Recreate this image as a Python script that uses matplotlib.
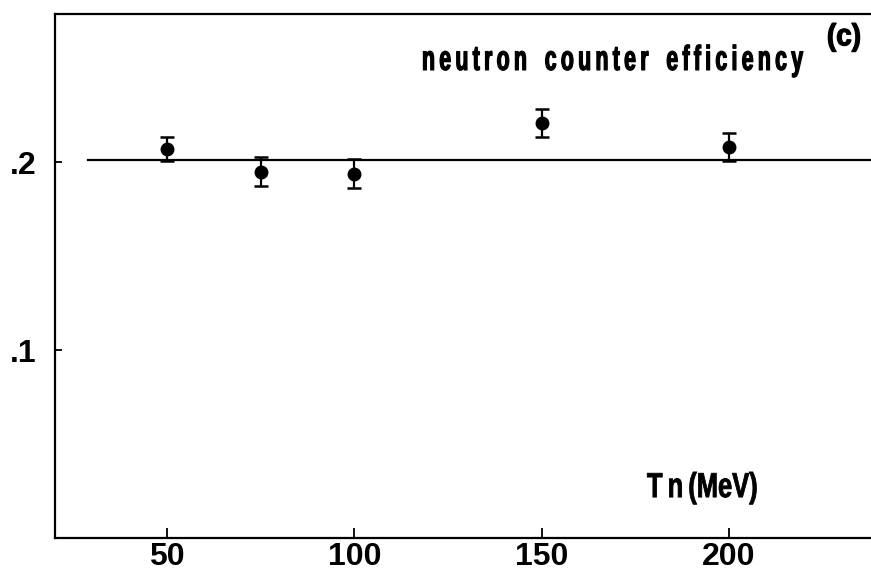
import matplotlib.pyplot as plt
from matplotlib.patheffects import AbstractPathEffect
from matplotlib.transforms import Affine2D

# neutron energy (MeV) and measured counter efficiency
tn = [50, 75, 100, 150, 200]
eff = [0.207, 0.195, 0.194, 0.221, 0.208]
eff_err = [0.0065, 0.0078, 0.0078, 0.0075, 0.0075]

# fitted constant efficiency
fit_x = [29, 240]
fit_y = [0.201, 0.201]

xticks = [50, 100, 150, 200]
yticks = [0.1, 0.2]
ytick_labels = ['.1', '.2']


class Squeeze(AbstractPathEffect):
    # draws text narrower and a bit heavier (condensed look), keeping its left edge
    def __init__(self, sx, lw=0.9):
        super().__init__()
        self.sx = sx
        self.lw = lw

    def draw_path(self, renderer, gc, tpath, affine, rgbFace=None):
        gc0 = renderer.new_gc()
        gc0.copy_properties(gc)
        gc0.set_linewidth(self.lw)
        gc0.set_foreground('black')
        renderer.draw_path(gc0, tpath, Affine2D().scale(self.sx, 1) + affine, rgbFace)
        gc0.restore()


fig = plt.figure(figsize=(8.71, 5.76), dpi=100)
ax = fig.add_axes([0.063, 0.066, 0.937, 0.91])

ax.plot(fit_x, fit_y, color='black', lw=1.6)
ax.errorbar(tn, eff, yerr=eff_err, fmt='o', color='black', ms=9,
            elinewidth=1.6, capsize=5, capthick=1.8)

ax.set_xlim(20.1, 237.9)
ax.set_ylim(0, 0.279)

ax.set_xticks(xticks)
ax.set_yticks(yticks)
ax.set_yticklabels(ytick_labels)
ax.tick_params(direction='in', length=7, width=1.3, labelsize=23)
ax.tick_params(axis='x', pad=3)
ax.tick_params(axis='y', length=5, pad=13)
for lab in ax.get_xticklabels() + ax.get_yticklabels():
    lab.set_fontfamily('Liberation Sans')
    lab.set_fontweight('bold')

ax.spines['right'].set_visible(False)
for s in ['left', 'bottom', 'top']:
    ax.spines[s].set_linewidth(1.6)

fam = ['Liberation Sans', 'DejaVu Sans']
sp = '\u2009'
title = ax.text(0.4498, 0.893, sp.join('neutron') + '   ' + sp.join('counter') + '   ' + sp.join('efficiency'),
                transform=ax.transAxes, ha='left', va='baseline', fontsize=25,
                fontweight='bold', family=fam)
panel = ax.text(0.946, 0.94, '(c)', transform=ax.transAxes, ha='left',
                va='baseline', fontsize=22, fontweight='bold', family=fam)
xlab = ax.text(0.7255, 0.078, 'T' + sp + 'n' + sp + '(MeV)', transform=ax.transAxes,
               ha='left', va='baseline', fontsize=25, fontweight='bold', family=fam)

# squeeze each label to the width it has in the original figure (pixels)
fig.canvas.draw()
for t, w, lw in [(title, 382, 0.9), (panel, 34, 0.9), (xlab, 111, 0.6)]:
    t.set_path_effects([Squeeze(w / t.get_window_extent().width, lw)])

plt.savefig('out.png')
